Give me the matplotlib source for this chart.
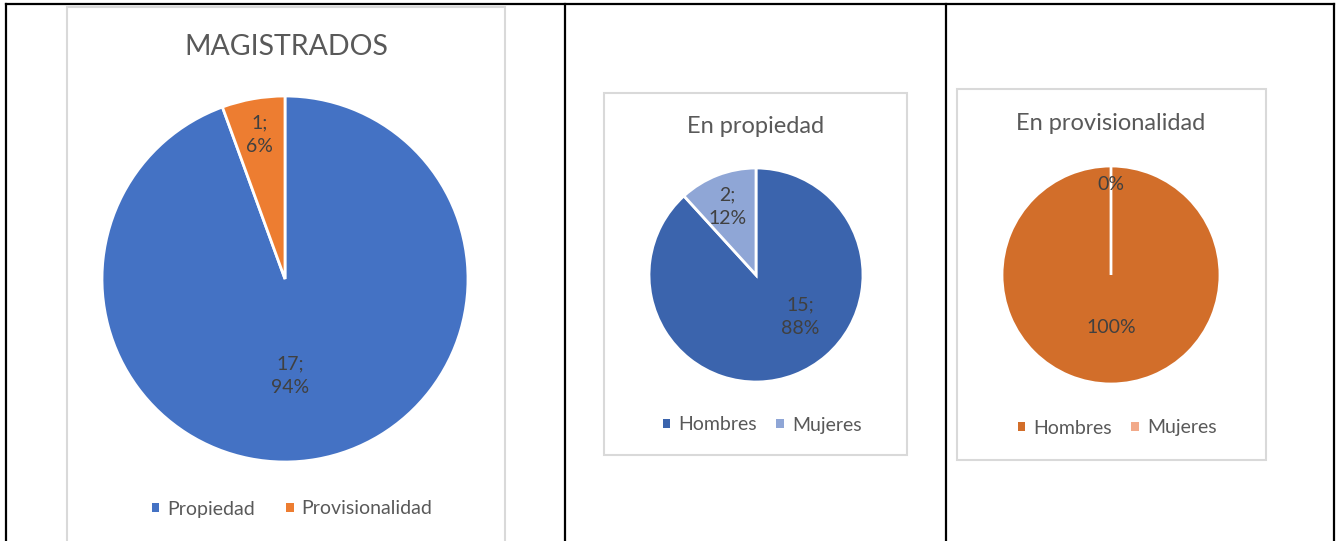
import matplotlib
matplotlib.use("Agg")
import matplotlib.pyplot as plt
from matplotlib.patches import Rectangle, Patch
from matplotlib.lines import Line2D
import numpy as np

# Data
mag_labels = ["Propiedad", "Provisionalidad"]
mag_values = [17, 1]
prop_labels = ["Hombres", "Mujeres"]
prop_values = [15, 2]
prov_labels = ["Hombres", "Mujeres"]
prov_values = [1, 0]

plt.rcParams['font.family'] = ['Lato', 'DejaVu Sans']

W, H = 1336, 541
fig = plt.figure(figsize=(W / 100, H / 100), dpi=100)

TXT = "#595959"
LBL = "#404040"


def fx(x):
    return x / W


def fy(y):
    return 1 - y / H


def pie_axes(cx, cy, r):
    ax = fig.add_axes([(cx - r) / W, 1 - (cy + r) / H, 2 * r / W, 2 * r / H])
    return ax


def draw_pie(ax, values, colors, label_pos, show_count=True):
    ax.pie(values, colors=colors, startangle=90, counterclock=False, radius=1,
           wedgeprops=dict(edgecolor='white', linewidth=2))
    ax.set_xlim(-1, 1)
    ax.set_ylim(-1, 1)
    ax.axis('off')
    total = sum(values)
    for v, (lx, ly) in zip(values, label_pos):
        pct = 100 * v / total
        s = f"{v};\n{pct:.0f}%" if show_count else f"{pct:.0f}%"
        ax.text(lx, ly, s, ha='center', va='center', color=LBL, fontsize=14,
                linespacing=1.5)


def legend_at(labels, colors, x, y, spacing):
    handles = [Patch(facecolor=c, edgecolor='none') for c in colors]
    fig.legend(handles, labels, loc='center', bbox_to_anchor=(fx(x), fy(y)),
               ncol=len(labels), frameon=False, fontsize=14,
               handlelength=0.4, handleheight=0.4, handletextpad=0.4,
               columnspacing=spacing, labelcolor=TXT)


# Table lines
for xs, ys in [((6, 6), (4, 541)), ((565, 565), (4, 541)),
               ((946, 946), (4, 541)), ((1334, 1334), (4, 541)),
               ((6, 1334), (4, 4))]:
    fig.add_artist(Line2D([fx(xs[0]), fx(xs[1])], [fy(ys[0]), fy(ys[1])],
                          color='black', linewidth=1.6))

# Chart boxes
for x0, y0, x1, y1 in [(67, 7, 505, 560), (604, 93, 907, 455), (957, 89, 1266, 460)]:
    fig.add_artist(Rectangle((fx(x0), fy(y1)), (x1 - x0) / W, (y1 - y0) / H,
                             transform=fig.transFigure, facecolor='none',
                             edgecolor='#d9d9d9', linewidth=1.5))

# MAGISTRADOS
fig.text(fx(286), fy(47), "MAGISTRADOS", ha='center', va='center',
         fontsize=20.5, color=TXT)
ax1 = pie_axes(285, 279, 183)
draw_pie(ax1, mag_values, ["#4472C4", "#ED7D31"], [(0.03, -0.53), (-0.14, 0.79)])
legend_at(mag_labels, ["#4472C4", "#ED7D31"], 292, 509, 1.6)

# En propiedad
fig.text(fx(756), fy(126), "En propiedad", ha='center', va='center',
         fontsize=17, color=TXT)
ax2 = pie_axes(756, 275, 107)
draw_pie(ax2, prop_values, ["#3B64AD", "#8FA6D6"], [(0.41, -0.39), (-0.27, 0.64)])
legend_at(prop_labels, ["#3B64AD", "#8FA6D6"], 762, 425, 1.0)

# En provisionalidad
fig.text(fx(1111), fy(123), "En provisionalidad", ha='center', va='center',
         fontsize=17, color=TXT)
ax3 = pie_axes(1111, 275, 109)
draw_pie(ax3, prov_values, ["#D26E2A", "#F2AA8A"], [(0, -0.48), (0, 0.83)],
         show_count=False)
legend_at(prov_labels, ["#D26E2A", "#F2AA8A"], 1117, 428, 1.0)

fig.savefig("out.png", dpi=100, facecolor='white')
